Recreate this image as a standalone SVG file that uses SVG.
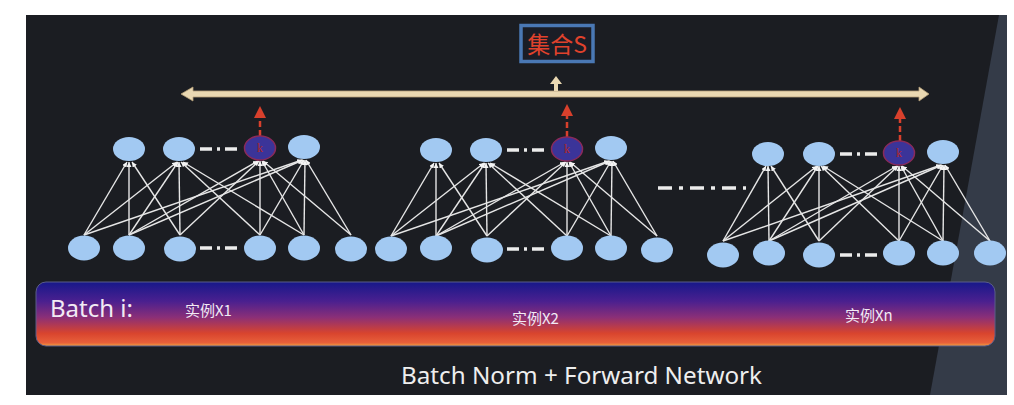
<svg xmlns="http://www.w3.org/2000/svg" width="1014" height="405" viewBox="0 0 1014 405">
<style>
.nd{fill:#a2c9f2;}
.nk{fill:#3b3499;stroke:#8a2a5a;stroke-width:1.5;}
.kt{font-family:"Liberation Serif",serif;font-size:12px;fill:#b02828;text-anchor:middle;}
.e{stroke:#e6e6e6;stroke-width:1.4;fill:none;marker-end:url(#ea);}
.dd{stroke:#ececec;stroke-width:3.5;stroke-dasharray:12 5 3 5 12;fill:none;}
.red{stroke:#d8402c;stroke-width:2.5;stroke-dasharray:6 3;fill:none;}
.ra{fill:#d8402c;}
.cap{font-family:"Noto Sans CJK SC","Noto Sans",sans-serif;fill:#f2eaf4;font-size:15px;}
</style>
<defs>
<marker id="ea" viewBox="0 0 6 6" refX="6" refY="3" markerWidth="5" markerHeight="5" orient="auto" markerUnits="userSpaceOnUse">
<path d="M0,0 L6,3 L0,6 z" fill="#f4f4f4"/>
</marker>
<linearGradient id="bar" x1="0" y1="0" x2="0" y2="1">
<stop offset="0" stop-color="#17188a"/>
<stop offset="0.3" stop-color="#4a208f"/>
<stop offset="0.55" stop-color="#8a2f78"/>
<stop offset="0.8" stop-color="#d8442e"/>
<stop offset="0.95" stop-color="#e8603a"/>
<stop offset="1" stop-color="#f0a040"/>
</linearGradient>
</defs>
<rect x="0" y="0" width="1014" height="405" fill="#ffffff"/>
<g id="background">
<rect x="26" y="15" width="981" height="380" fill="#1b1d22"/>
<polygon points="999,15 1007,15 1007,395 930,395" fill="#343b48"/>
</g>
<g id="set-s">
<rect x="521" y="25.5" width="72" height="36" fill="#1a1d26" stroke="#4a78b4" stroke-width="3.5"/>
<text x="557" y="53" font-family="Noto Sans CJK SC,sans-serif" font-size="23" fill="#e0422c" text-anchor="middle">集合S</text>
</g>
<g id="collector">
<path d="M193,91 L919,91 L919,87 L929,94 L919,101 L919,97 L193,97 L193,101 L181,94 L193,87 Z" fill="#ead8b2" stroke="#b59f78" stroke-width="0.8"/>
<path d="M554,91 L554,84 L550,84 L556,76 L562,84 L558,84 L558,91 Z" fill="#ead8b2"/>
</g>
<g id="connectors">
<path class="red" d="M260,136 V117"/><path class="ra" d="M254,118 L260,106 L266,118 Z"/>
<path class="red" d="M567,137 V115"/><path class="ra" d="M561,116 L567,104 L573,116 Z"/>
<path class="red" d="M900,141 V118"/><path class="ra" d="M894,119 L900,107 L906,119 Z"/>
<line class="dd" x1="200" y1="149" x2="237" y2="149"/>
<line class="dd" x1="200" y1="248" x2="237" y2="248"/>
<line class="dd" x1="507" y1="150" x2="545" y2="150"/>
<line class="dd" x1="507" y1="249" x2="545" y2="249"/>
<line class="dd" x1="840" y1="154" x2="877" y2="154"/>
<line class="dd" x1="840" y1="255" x2="877" y2="255"/>
<line x1="658" y1="188" x2="746" y2="188" stroke="#ececec" stroke-width="3.5" stroke-dasharray="14 7 4 7"/>
<line class="e" x1="84" y1="235" x2="127" y2="162"/>
<line class="e" x1="129" y1="235" x2="129" y2="162"/>
<line class="e" x1="180" y1="235" x2="132" y2="162"/>
<line class="e" x1="84" y1="235" x2="177" y2="162"/>
<line class="e" x1="129" y1="235" x2="178" y2="162"/>
<line class="e" x1="180" y1="235" x2="179" y2="162"/>
<line class="e" x1="260" y1="235" x2="181" y2="162"/>
<line class="e" x1="304" y1="235" x2="183" y2="162"/>
<line class="e" x1="129" y1="235" x2="258" y2="161"/>
<line class="e" x1="180" y1="235" x2="259" y2="161"/>
<line class="e" x1="260" y1="235" x2="260" y2="161"/>
<line class="e" x1="304" y1="235" x2="262" y2="161"/>
<line class="e" x1="351" y1="235" x2="263" y2="161"/>
<line class="e" x1="84" y1="235" x2="302" y2="160"/>
<line class="e" x1="129" y1="235" x2="303" y2="160"/>
<line class="e" x1="260" y1="235" x2="304" y2="160"/>
<line class="e" x1="304" y1="235" x2="305" y2="160"/>
<line class="e" x1="351" y1="235" x2="306" y2="160"/>
<line class="e" x1="391" y1="236" x2="434" y2="163"/>
<line class="e" x1="436" y1="236" x2="436" y2="163"/>
<line class="e" x1="487" y1="236" x2="439" y2="163"/>
<line class="e" x1="391" y1="236" x2="484" y2="163"/>
<line class="e" x1="436" y1="236" x2="485" y2="163"/>
<line class="e" x1="487" y1="236" x2="486" y2="163"/>
<line class="e" x1="567" y1="236" x2="488" y2="163"/>
<line class="e" x1="611" y1="236" x2="490" y2="163"/>
<line class="e" x1="436" y1="236" x2="565" y2="162"/>
<line class="e" x1="487" y1="236" x2="566" y2="162"/>
<line class="e" x1="567" y1="236" x2="567" y2="162"/>
<line class="e" x1="611" y1="236" x2="569" y2="162"/>
<line class="e" x1="657" y1="236" x2="570" y2="162"/>
<line class="e" x1="391" y1="236" x2="609" y2="161"/>
<line class="e" x1="436" y1="236" x2="610" y2="161"/>
<line class="e" x1="567" y1="236" x2="611" y2="161"/>
<line class="e" x1="611" y1="236" x2="612" y2="161"/>
<line class="e" x1="657" y1="236" x2="613" y2="161"/>
<line class="e" x1="723" y1="241" x2="766" y2="166"/>
<line class="e" x1="769" y1="241" x2="768" y2="166"/>
<line class="e" x1="819" y1="241" x2="771" y2="166"/>
<line class="e" x1="723" y1="241" x2="817" y2="166"/>
<line class="e" x1="769" y1="241" x2="818" y2="166"/>
<line class="e" x1="819" y1="241" x2="819" y2="166"/>
<line class="e" x1="899" y1="241" x2="821" y2="166"/>
<line class="e" x1="943" y1="241" x2="823" y2="166"/>
<line class="e" x1="769" y1="241" x2="897" y2="166"/>
<line class="e" x1="819" y1="241" x2="898" y2="166"/>
<line class="e" x1="899" y1="241" x2="899" y2="166"/>
<line class="e" x1="943" y1="241" x2="901" y2="166"/>
<line class="e" x1="990" y1="241" x2="902" y2="166"/>
<line class="e" x1="723" y1="241" x2="941" y2="165"/>
<line class="e" x1="769" y1="241" x2="942" y2="165"/>
<line class="e" x1="899" y1="241" x2="943" y2="165"/>
<line class="e" x1="943" y1="241" x2="944" y2="165"/>
<line class="e" x1="990" y1="241" x2="945" y2="165"/>
</g>
<g id="n1-t1"><ellipse class="nd" cx="129" cy="149" rx="16" ry="12"/></g>
<g id="n1-t2"><ellipse class="nd" cx="179" cy="149" rx="16" ry="12"/></g>
<g id="n1-tk"><ellipse class="nk" cx="260" cy="148" rx="15.5" ry="12"/><text class="kt" x="260" y="152">k</text></g>
<g id="n1-t4"><ellipse class="nd" cx="304" cy="147" rx="16" ry="12"/></g>
<g id="n1-b1"><ellipse class="nd" cx="84" cy="248" rx="16" ry="12.5"/></g>
<g id="n1-b2"><ellipse class="nd" cx="129" cy="248" rx="16" ry="12.5"/></g>
<g id="n1-b3"><ellipse class="nd" cx="180" cy="249" rx="16" ry="12.5"/></g>
<g id="n1-b4"><ellipse class="nd" cx="260" cy="248" rx="16" ry="12.5"/></g>
<g id="n1-b5"><ellipse class="nd" cx="304" cy="248" rx="16" ry="12.5"/></g>
<g id="n1-b6"><ellipse class="nd" cx="351" cy="249" rx="16" ry="12.5"/></g>
<g id="n2-t1"><ellipse class="nd" cx="436" cy="150" rx="16" ry="12"/></g>
<g id="n2-t2"><ellipse class="nd" cx="486" cy="150" rx="16" ry="12"/></g>
<g id="n2-tk"><ellipse class="nk" cx="567" cy="149" rx="15.5" ry="12"/><text class="kt" x="567" y="153">k</text></g>
<g id="n2-t4"><ellipse class="nd" cx="611" cy="148" rx="16" ry="12"/></g>
<g id="n2-b1"><ellipse class="nd" cx="391" cy="249" rx="16" ry="12.5"/></g>
<g id="n2-b2"><ellipse class="nd" cx="436" cy="248" rx="16" ry="12.5"/></g>
<g id="n2-b3"><ellipse class="nd" cx="487" cy="250" rx="16" ry="12.5"/></g>
<g id="n2-b4"><ellipse class="nd" cx="567" cy="248" rx="16" ry="12.5"/></g>
<g id="n2-b5"><ellipse class="nd" cx="611" cy="248" rx="16" ry="12.5"/></g>
<g id="n2-b6"><ellipse class="nd" cx="657" cy="250" rx="16" ry="12.5"/></g>
<g id="n3-t1"><ellipse class="nd" cx="768" cy="154" rx="16" ry="12"/></g>
<g id="n3-t2"><ellipse class="nd" cx="819" cy="154" rx="16" ry="12"/></g>
<g id="n3-tk"><ellipse class="nk" cx="899" cy="153" rx="15.5" ry="12"/><text class="kt" x="899" y="157">k</text></g>
<g id="n3-t4"><ellipse class="nd" cx="943" cy="152" rx="16" ry="12"/></g>
<g id="n3-b1"><ellipse class="nd" cx="723" cy="255" rx="16" ry="12.5"/></g>
<g id="n3-b2"><ellipse class="nd" cx="769" cy="253" rx="16" ry="12.5"/></g>
<g id="n3-b3"><ellipse class="nd" cx="819" cy="255" rx="16" ry="12.5"/></g>
<g id="n3-b4"><ellipse class="nd" cx="899" cy="253" rx="16" ry="12.5"/></g>
<g id="n3-b5"><ellipse class="nd" cx="943" cy="253" rx="16" ry="12.5"/></g>
<g id="n3-b6"><ellipse class="nd" cx="990" cy="253" rx="16" ry="12.5"/></g>
<g id="batch-bar">
<rect x="36" y="282" width="959" height="64" rx="10" fill="url(#bar)" stroke="#5a5c8a" stroke-width="1"/>
<text x="50" y="317" font-family="Noto Sans,sans-serif" font-size="23" fill="#f2eaf4" textLength="83" lengthAdjust="spacingAndGlyphs">Batch i:</text>
<text class="cap" x="185" y="316">实例X1</text>
<text class="cap" x="512" y="324">实例X2</text>
<text class="cap" x="845" y="321">实例Xn</text>
</g>
<g id="title">
<text x="401" y="384" font-family="Noto Sans,sans-serif" font-size="23" fill="#eeeeee" textLength="361" lengthAdjust="spacingAndGlyphs">Batch Norm + Forward Network</text>
</g>
</svg>
